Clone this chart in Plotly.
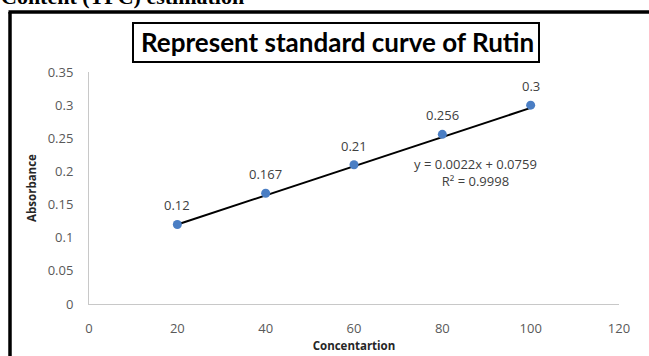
import plotly.graph_objects as go

# Data
concentration = [20, 40, 60, 80, 100]
absorbance = [0.12, 0.167, 0.21, 0.256, 0.3]
point_labels = ["0.12", "0.167", "0.21", "0.256", "0.3"]
slope = 0.0022
intercept = 0.0759
equation_text = "y = 0.0022x + 0.0759<br>R² = 0.9998"
x_ticks = [0, 20, 40, 60, 80, 100, 120]
y_ticks = [0, 0.05, 0.1, 0.15, 0.2, 0.25, 0.3, 0.35]
y_tick_labels = ["0", "0.05", "0.1", "0.15", "0.2", "0.25", "0.3", "0.35"]

W, H = 649, 356
ML, MR, MT, MB = 89, 30, 72, 52
PW, PH = W - ML - MR, H - MT - MB


def px(x):
    return (x - ML) / PW


def py(y):
    return (H - y - MB) / PH


trend_x = [concentration[0], concentration[-1]]
trend_y = [slope * v + intercept for v in trend_x]

fig = go.Figure()
fig.add_trace(go.Scatter(x=trend_x, y=trend_y, mode="lines",
                         line=dict(color="black", width=2), hoverinfo="skip"))
fig.add_trace(go.Scatter(x=concentration, y=absorbance, mode="markers",
                         marker=dict(color="#4A7EC4", size=9)))

# Data labels above each point
for xv, yv, lab in zip(concentration, absorbance, point_labels):
    fig.add_annotation(x=xv, y=yv, xref="x", yref="y", text=lab, showarrow=False,
                       xanchor="center", yanchor="middle", yshift=19,
                       font=dict(family="Open Sans, sans-serif", size=13, color="#404040"))

fig.update_layout(
    width=W, height=H,
    margin=dict(l=ML, r=MR, t=MT, b=MB, autoexpand=False),
    paper_bgcolor="white", plot_bgcolor="white",
    showlegend=False,
    font=dict(family="Open Sans, sans-serif", color="#595959"),
    xaxis=dict(range=[0, 120], tickvals=x_ticks, showgrid=False, zeroline=False,
               showline=True, linecolor="#c8c8c8", linewidth=1, automargin=False,
               ticks="", ticklabelstandoff=12,
               tickfont=dict(size=13, color="#595959"),
               title=dict(text="<b>Concentartion</b>", standoff=6,
                          font=dict(size=11.5, color="#262626"))),
    yaxis=dict(range=[0, 0.35], tickvals=y_ticks, ticktext=y_tick_labels,
               showgrid=False, zeroline=False, automargin=False,
               showline=True, linecolor="#c8c8c8", linewidth=1,
               ticks="", ticklabelstandoff=12,
               tickfont=dict(size=13, color="#595959"),
               title=dict(text="<b>Absorbance</b>", standoff=8,
                          font=dict(size=11.5, color="#262626"))),
)

# Equation annotation
fig.add_annotation(x=px(475), y=py(172), xref="paper", yref="paper",
                   xanchor="center", yanchor="middle",
                   text=equation_text, showarrow=False, align="center",
                   font=dict(family="Open Sans, sans-serif", size=13, color="#404040"))

# Title box
fig.add_shape(type="rect", xref="paper", yref="paper",
              x0=px(133), x1=px(539), y0=py(62), y1=py(23),
              line=dict(color="black", width=2), fillcolor="white")
fig.add_annotation(x=px(337), y=py(42.5), xref="paper", yref="paper",
                   xanchor="center", yanchor="middle",
                   text="<b>Represent standard curve of Rutin</b>", showarrow=False,
                   font=dict(family="Lato, sans-serif", size=26, color="black"))

# Outer document frame lines
fig.add_shape(type="line", xref="paper", yref="paper",
              x0=px(8.5), x1=px(660), y0=py(12), y1=py(12),
              line=dict(color="black", width=3.5))
fig.add_shape(type="line", xref="paper", yref="paper",
              x0=px(10), x1=px(10), y0=py(12), y1=py(370),
              line=dict(color="black", width=3.5))

# Cut-off heading of document
fig.add_annotation(x=px(-1), y=py(11), xref="paper", yref="paper",
                   xanchor="left", yanchor="bottom",
                   text="<b>Content (TPC) estimation</b>", showarrow=False,
                   font=dict(family="Liberation Serif, serif", size=22, color="black"))

fig.write_html("out.html", config={"displayModeBar": False},
               post_script="document.body.style.margin='0';document.body.style.overflow='hidden';")
